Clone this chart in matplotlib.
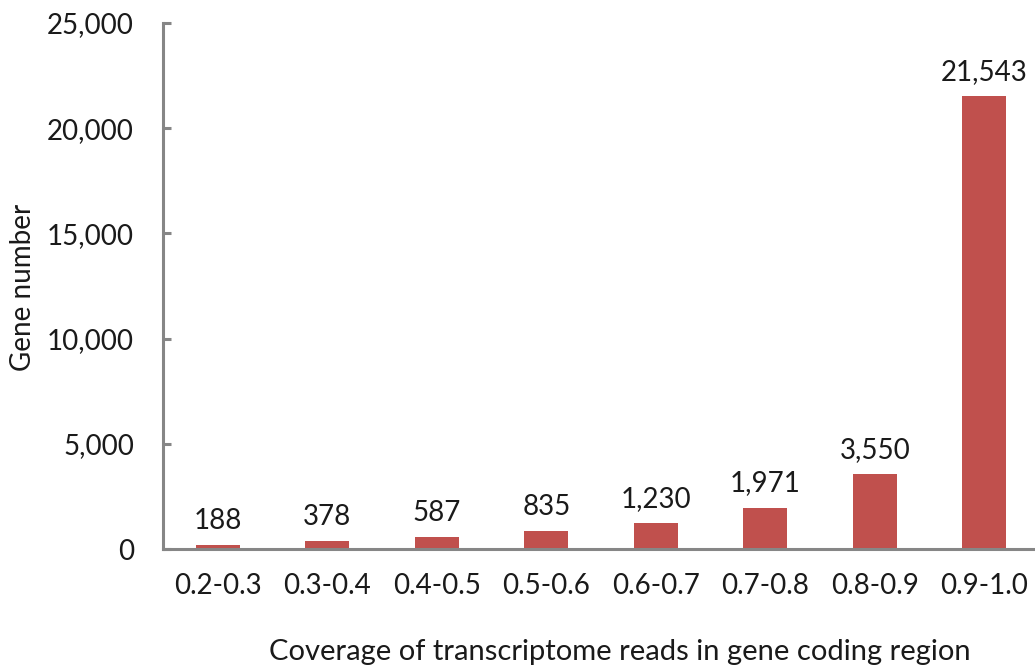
import matplotlib
matplotlib.use("Agg")
import matplotlib.pyplot as plt
from matplotlib.ticker import FuncFormatter

plt.rcParams['font.family'] = ['Lato', 'DejaVu Sans']

categories = ["0.2-0.3", "0.3-0.4", "0.4-0.5", "0.5-0.6", "0.6-0.7", "0.7-0.8", "0.8-0.9", "0.9-1.0"]
gene_counts = [188, 378, 587, 835, 1230, 1971, 3550, 21543]
y_ticks = [0, 5000, 10000, 15000, 20000, 25000]

bar_color = "#C0504D"
axis_color = "#868686"
text_color = "#1a1a1a"
fs = 20

fig = plt.figure(figsize=(10.35, 6.69), dpi=100)
ax = fig.add_axes([163 / 1035, 1 - 549 / 669, 1 - 163 / 1035 + 0.004, (549 - 23) / 669])

x = range(len(categories))
ax.bar(x, gene_counts, width=0.4, color=bar_color, zorder=2)

for xi, v in zip(x, gene_counts):
    ax.annotate(f"{v:,}", (xi, v), xytext=(0, 8), textcoords="offset points",
                ha="center", va="bottom", fontsize=fs, color=text_color)

ax.set_xlim(-0.5, len(categories) - 0.5)
ax.set_ylim(0, 25000)
ax.set_yticks(y_ticks)
ax.yaxis.set_major_formatter(FuncFormatter(lambda v, p: f"{int(v):,}"))
ax.set_xticks(list(x))
ax.set_xticklabels(categories)

for side in ("top", "right"):
    ax.spines[side].set_visible(False)
for side in ("left", "bottom"):
    ax.spines[side].set_color(axis_color)
    ax.spines[side].set_linewidth(2.2)

ax.tick_params(axis="y", direction="in", length=6, width=2.2, color=axis_color,
               labelsize=fs, labelcolor=text_color, pad=21)
ax.tick_params(axis="x", length=0, labelsize=fs, labelcolor=text_color, pad=17)

fig.text(23 / 1035, 1 - 287 / 669, "Gene number", rotation=90,
         ha="center", va="center", fontsize=fs, color=text_color)
fig.text(620 / 1035, 1 - 660 / 669, "Coverage of transcriptome reads in gene coding region",
         ha="center", va="baseline", fontsize=21, color=text_color)

fig.savefig("out.png", dpi=100)
